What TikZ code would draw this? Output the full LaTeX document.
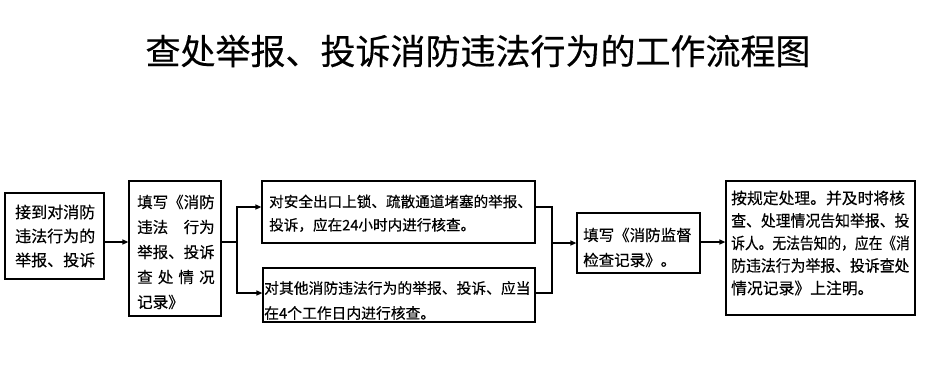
\documentclass[tikz,border=0pt]{standalone}
\usepackage{fontspec}
\setmainfont[FakeBold=0.4,AutoFakeBold=0.4]{Noto Sans CJK SC}
\usetikzlibrary{arrows.meta}
\begin{document}
\begin{tikzpicture}[x=1pt,y=-1pt,
  box/.style={draw, line width=1.2pt, inner sep=0pt},
  txt/.style={anchor=west, align=left, inner sep=0pt},
  arr/.style={line width=1.2pt, -{Triangle[length=6pt,width=5pt]}},
  ln/.style={line width=1.2pt}]
\useasboundingbox (0,0) rectangle (931,372);
\node[font=\fontsize{35}{40}\selectfont] (title) at (478,51) {查处举报、投诉消防违法行为的工作流程图};
% boxes
\node[box, minimum width=99pt, minimum height=86pt] (b1) at (54.5,236) {};
\node[box, minimum width=92pt, minimum height=135pt] (b2) at (175,248.5) {};
\node[box, minimum width=273pt, minimum height=62pt] (b3) at (398.5,212) {};
\node[box, minimum width=272pt, minimum height=54pt] (b4) at (399,295) {};
\node[box, minimum width=123pt, minimum height=60pt] (b5) at (638.5,243) {};
\node[box, minimum width=189pt, minimum height=134pt] (b6) at (820.5,248) {};
% texts
\node[txt, font=\fontsize{16}{24}\selectfont] (t1) at (15,236) {接到对消防\\违法行为的\\举报、投诉};
\node[txt, font=\fontsize{15.5}{25}\selectfont] (t2) at (137,252) {填写《消防\\\makebox[5em][l]{违法\hfill 行为}\\举报、投诉\\\makebox[5em][l]{查\hfill 处\hfill 情\hfill 况}\\记录》};
\node[txt, font=\fontsize{14.6}{23.3}\selectfont] (t3) at (269,213.3) {对安全出口上锁、疏散通道堵塞的举报、\\投诉，应在24小时内进行核查。};
\node[txt, font=\fontsize{14.8}{25}\selectfont] (t4) at (264,300.5) {对其他消防违法行为的举报、投诉、应当\\在4个工作日内进行核查。};
\node[txt, font=\fontsize{15.5}{25}\selectfont] (t5) at (583,247.5) {填写《消防监督\\检查记录》。};
\node[txt, font=\fontsize{15.8}{22.5}\selectfont] (t6) at (731,243) {按规定处理。并及时将核\\\scalebox{0.94}[1]{查、处理情况告知举报、投}\\\scalebox{0.87}[1]{诉人。无法告知的，应在《消}\\\scalebox{0.94}[1]{防违法行为举报、投诉查处}\\情况记录》上注明。};
% connectors
\coordinate (j1) at ([yshift=-6pt]b1.east);
\draw[arr] (j1) -- (j1 -| b2.west);
\coordinate (s) at (237,242);
\draw[ln] (s -| b2.east) -- (s);
\draw[arr] (s) |- ([yshift=5pt]b3.west);
\draw[arr] (s) |- ([yshift=2pt]b4.west);
\coordinate (m) at (552,243);
\draw[ln] ([yshift=5pt]b3.east) -| (m);
\draw[ln] ([yshift=2pt]b4.east) -| (m);
\draw[arr] (m) -- (m -| b5.west);
\coordinate (j5) at ([yshift=1pt]b5.east);
\draw[arr] (j5) -- (j5 -| b6.west);
\end{tikzpicture}
\end{document}
